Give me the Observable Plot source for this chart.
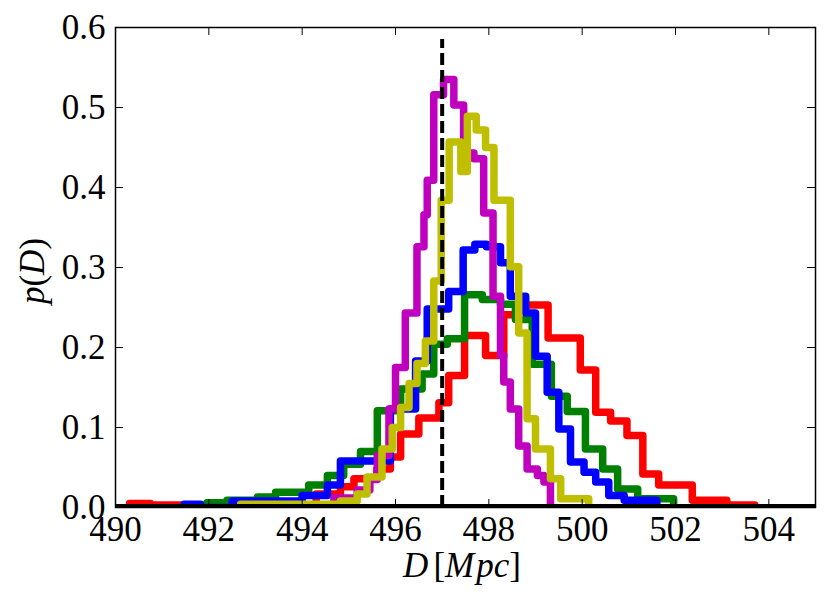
<!DOCTYPE html>
<html><head><meta charset="utf-8">
<script src="https://cdn.jsdelivr.net/npm/d3@7"></script>
<script src="https://cdn.jsdelivr.net/npm/@observablehq/plot@0.6"></script>
<style>body{margin:0;background:#fff}</style>
</head><body><div id="chart"></div>
<script>
// ---- data ----
const xTicks = [490, 492, 494, 496, 498, 500, 502, 504];
const yTicks = [0, 0.1, 0.2, 0.3, 0.4, 0.5, 0.6];
const trueDistance = [497];
const dashTop = 0.585;

const redEdges = [490.3, 490.75, 494.3, 494.82, 495.11, 495.6, 495.89, 496.11, 496.5, 496.93, 497.14, 497.48, 497.93, 498.32, 498.6, 499.27, 499.96, 500.29, 500.61, 500.96, 501.3, 501.64, 502.36, 503.1, 503.7];
const redHeights = [0.005, 0.003, 0.017, 0.026, 0.036, 0.048, 0.063, 0.092, 0.112, 0.131, 0.165, 0.215, 0.19, 0.241, 0.253, 0.212, 0.172, 0.119, 0.108, 0.09, 0.042, 0.028, 0.009, 0.003];

const greenEdges = [491.96, 492.39, 493.04, 493.43, 494.14, 494.54, 494.89, 495.25, 495.61, 496.11, 496.57, 496.82, 497.11, 497.48, 497.86, 498.25, 498.57, 498.93, 499.34, 499.68, 500.07, 500.44, 500.76, 501.19, 501.96];
const greenHeights = [0.006, 0.009, 0.013, 0.019, 0.028, 0.04, 0.054, 0.07, 0.121, 0.148, 0.167, 0.204, 0.211, 0.266, 0.26, 0.254, 0.235, 0.179, 0.139, 0.12, 0.073, 0.048, 0.023, 0.011];

const blueEdges = [491.47, 491.82, 492.5, 494.0, 494.54, 494.82, 495.89, 496.43, 496.68, 497.14, 497.45, 497.7, 497.95, 498.25, 498.46, 498.79, 499.0, 499.25, 499.5, 499.75, 500.04, 500.29, 500.57, 500.9, 501.6];
const blueHeights = [0.004, 0, 0.008, 0.015, 0.028, 0.058, 0.123, 0.183, 0.248, 0.27, 0.322, 0.329, 0.326, 0.306, 0.264, 0.243, 0.189, 0.144, 0.098, 0.057, 0.044, 0.032, 0.015, 0.009];

const magentaEdges = [494.68, 495.18, 495.45, 495.61, 495.86, 496.0, 496.21, 496.46, 496.61, 496.68, 496.82, 497.03, 497.25, 497.46, 497.68, 497.89, 498.09, 498.25, 498.32, 498.46, 498.64, 498.82, 499.04, 499.18, 499.32];
const magentaHeights = [0.012, 0.022, 0.035, 0.065, 0.123, 0.175, 0.243, 0.326, 0.366, 0.409, 0.516, 0.535, 0.503, 0.443, 0.436, 0.368, 0.264, 0.19, 0.157, 0.123, 0.077, 0.048, 0.04, 0.032];

const yellowEdges = [492.68, 494.82, 495.18, 495.39, 495.71, 495.93, 496.11, 496.29, 496.46, 496.64, 496.82, 496.98, 497.15, 497.4, 497.54, 497.73, 497.93, 498.11, 498.46, 498.64, 498.82, 499.0, 499.32, 499.54, 500.14];
const yellowHeights = [0.004, 0.008, 0.017, 0.038, 0.073, 0.1, 0.125, 0.155, 0.18, 0.208, 0.283, 0.384, 0.457, 0.42, 0.489, 0.472, 0.45, 0.384, 0.301, 0.218, 0.111, 0.073, 0.036, 0.011];

const series = [
  {name: "r", color: "#ff0000", edges: redEdges, heights: redHeights},
  {name: "g", color: "#008000", edges: greenEdges, heights: greenHeights},
  {name: "b", color: "#0000ff", edges: blueEdges, heights: blueHeights},
  {name: "m", color: "#bf00bf", edges: magentaEdges, heights: magentaHeights},
  {name: "y", color: "#bfbf00", edges: yellowEdges, heights: yellowHeights}
];

// step outline of a histogram (like histtype="step")
function stepPoints(s) {
  const n = s.heights.length;
  const pts = [{x: s.edges[0], y: 0}];
  for (let i = 0; i < n; i++) pts.push({x: s.edges[i], y: s.heights[i]});
  pts.push({x: s.edges[n], y: s.heights[n - 1]});
  pts.push({x: s.edges[n], y: 0});
  return pts;
}

// ---- layout ----
const W = 830, H = 603, mL = 115, mR = 15, mT = 27, mB = 96;
const frameW = W - mL - mR, frameH = H - mT - mB;
const tickLen = 8;
const font = "'Liberation Serif', 'Times New Roman', serif";

const plot = Plot.plot({
  width: W, height: H,
  marginLeft: mL, marginRight: mR, marginTop: mT, marginBottom: mB,
  style: {fontFamily: font, fontSize: "35px", background: "white", color: "black", overflow: "visible"},
  x: {domain: [490, 505]},
  y: {domain: [0, 0.6]},
  marks: [
    ...series.map(s => Plot.line(stepPoints(s), {
      x: "x", y: "y", stroke: s.color, strokeWidth: 7.5,
      curve: "step-after", strokeLinejoin: "round", clip: true
    })),
    Plot.ruleY([0], {stroke: "black", strokeWidth: 7, clip: true}),
    Plot.ruleX(trueDistance, {y1: 0, y2: dashTop, stroke: "black", strokeWidth: 4, strokeDasharray: "12,5"}),
    Plot.frame({stroke: "black", strokeWidth: 1.5}),
    Plot.ruleX(xTicks, {insetTop: frameH - tickLen, stroke: "black", strokeWidth: 1}),
    Plot.ruleX(xTicks, {insetBottom: frameH - tickLen, stroke: "black", strokeWidth: 1}),
    Plot.ruleY(yTicks, {insetRight: frameW - tickLen, stroke: "black", strokeWidth: 1}),
    Plot.ruleY(yTicks, {insetLeft: frameW - tickLen, stroke: "black", strokeWidth: 1}),
    Plot.axisX(xTicks, {tickSize: 0, tickPadding: 9, fontSize: 35, label: null, tickFormat: d => String(d)}),
    Plot.axisY(yTicks, {tickSize: 0, tickPadding: 10, fontSize: 35, label: null, tickFormat: d3.format(".1f")})
  ]
});

document.getElementById("chart").appendChild(plot);

// axis labels (mathtext-like: italic variables, upright brackets)
const svg = d3.select(plot);
const xl = svg.append("text")
  .attr("x", mL + frameW / 2 - 3).attr("y", H - 26)
  .attr("text-anchor", "middle")
  .attr("font-family", font).attr("font-size", 35).attr("fill", "black");
xl.append("tspan").attr("font-style", "italic").text("D");
xl.append("tspan").attr("dx", 5).text("[");
xl.append("tspan").attr("font-style", "italic").text("M");
xl.append("tspan").attr("font-style", "italic").attr("dx", 2).text("pc");
xl.append("tspan").text("]");

const yl = svg.append("text")
  .attr("transform", `translate(${44},${mT + frameH / 2 + 4}) rotate(-90)`)
  .attr("text-anchor", "middle")
  .attr("font-family", font).attr("font-size", 35).attr("fill", "black");
yl.append("tspan").attr("font-style", "italic").text("p");
yl.append("tspan").text("(");
yl.append("tspan").attr("font-style", "italic").text("D");
yl.append("tspan").text(")");
</script>
</body></html>
